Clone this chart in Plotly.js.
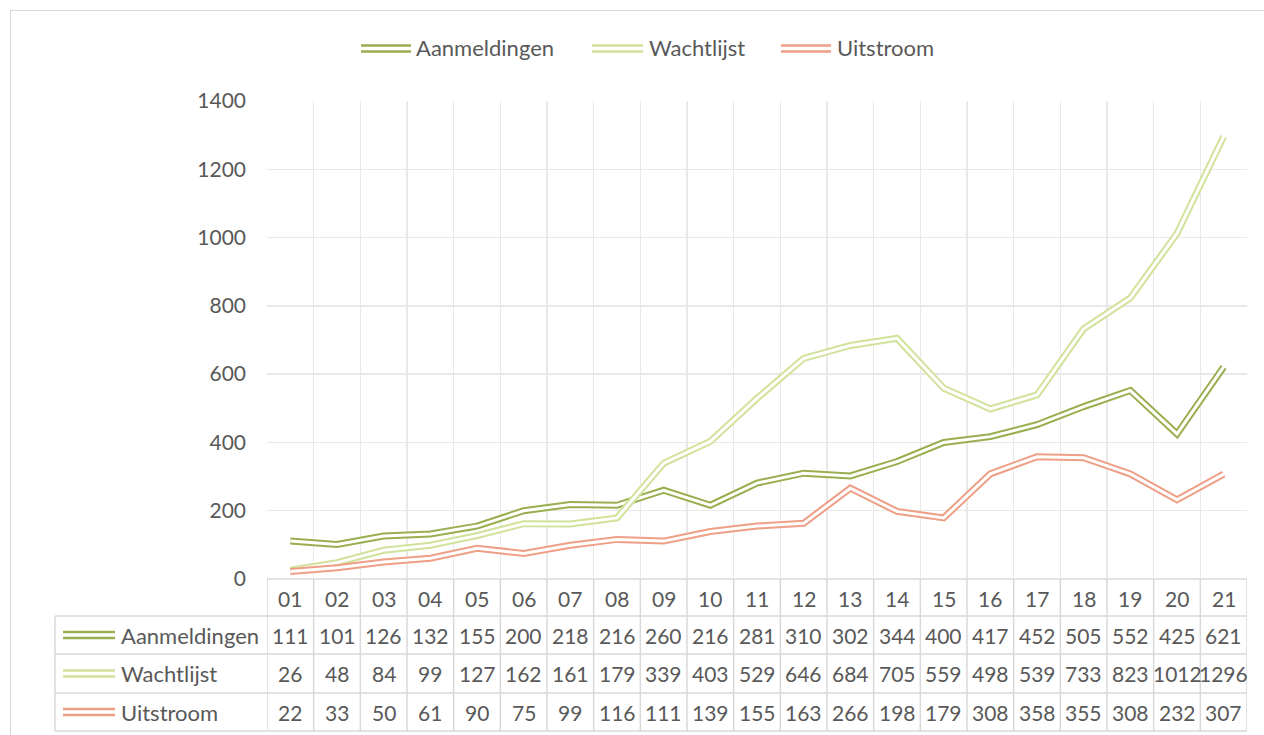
<!DOCTYPE html>
<html><head><meta charset="utf-8">
<script src="https://cdn.plot.ly/plotly-3.0.1.min.js"></script>
<style>html,body{margin:0;padding:0;background:#fff;}#chart{width:1264px;height:735px;}</style>
</head><body><div id="chart"></div>
<script>
const categories = ["01","02","03","04","05","06","07","08","09","10","11","12","13","14","15","16","17","18","19","20","21"];
const seriesNames = ["Aanmeldingen","Wachtlijst","Uitstroom"];
const aanmeldingen = [111,101,126,132,155,200,218,216,260,216,281,310,302,344,400,417,452,505,552,425,621];
const wachtlijst = [26,48,84,99,127,162,161,179,339,403,529,646,684,705,559,498,539,733,823,1012,1296];
const uitstroom = [22,33,50,61,90,75,99,116,111,139,155,163,266,198,179,308,358,355,308,232,307];
const yTicks = [0,200,400,600,800,1000,1200,1400];

const seriesValues = [aanmeldingen, wachtlijst, uitstroom];
const colors = ["#9aae4f","#d2e29b","#ee9f86"];
const W = 1264, H = 735;
const L = 267, R = 1247, T = 101, B = 579;
const px = v => (v - L) / (R - L);
const py = v => (B - v) / (B - T);
const font = "Lato, 'Noto Sans', sans-serif";
const txt = "#595959";
const grid = "#e9e9e9";
const tbl = "#d9d9d9";
const fs = 21;
const fsName = 22;

const xs = categories.map((c, i) => i + 1);
const traces = [];
seriesValues.forEach((vals, s) => {
  traces.push({x: xs, y: vals, type: "scatter", mode: "lines", line: {color: colors[s], width: 7}, hoverinfo: "skip", showlegend: false, cliponaxis: false});
  traces.push({x: xs, y: vals, type: "scatter", mode: "lines", line: {color: "#ffffff", width: 3}, hoverinfo: "skip", showlegend: false, cliponaxis: false});
});

const shapes = [];
const annotations = [];
// outer border
shapes.push({type: "rect", xref: "paper", yref: "paper", x0: px(10.5), x1: px(1300), y0: py(10.5), y1: py(800), line: {color: "#d9d9d9", width: 1}});

// table geometry
const rowLines = [579, 616, 654, 693, 731];
const tblLeft = 55;
const n = categories.length;
shapes.push({type: "line", xref: "paper", yref: "paper", x0: px(L), x1: px(R), y0: py(579), y1: py(579), line: {color: tbl, width: 1.5}});
for (let r = 1; r < rowLines.length; r++) {
  shapes.push({type: "line", xref: "paper", yref: "paper", x0: px(tblLeft), x1: px(R), y0: py(rowLines[r]), y1: py(rowLines[r]), line: {color: tbl, width: 1.5}});
}
for (let i = 0; i <= n; i++) {
  shapes.push({type: "line", xref: "x", yref: "paper", x0: i + 0.5, x1: i + 0.5, y0: py(579), y1: py(731), line: {color: tbl, width: 1.5}});
}
shapes.push({type: "line", xref: "paper", yref: "paper", x0: px(tblLeft), x1: px(tblLeft), y0: py(616), y1: py(731), line: {color: tbl, width: 1.5}});

categories.forEach((c, i) => {
  annotations.push({xref: "x", yref: "paper", x: i + 1, y: py(598), text: c, showarrow: false, font: {family: font, size: fs, color: txt}, xanchor: "center", yanchor: "middle"});
});
const rowCenters = [635, 673.5, 712];
seriesValues.forEach((vals, s) => {
  const yc = rowCenters[s];
  vals.forEach((v, i) => {
    annotations.push({xref: "x", yref: "paper", x: i + 1, y: py(yc), text: String(v), showarrow: false, font: {family: font, size: fs, color: txt}, xanchor: "center", yanchor: "middle"});
  });
  annotations.push({xref: "paper", yref: "paper", x: px(119), y: py(yc), text: seriesNames[s], showarrow: false, font: {family: font, size: fsName, color: txt}, xanchor: "left", yanchor: "middle"});
  [-3, 3].forEach(d => {
    shapes.push({type: "line", xref: "paper", yref: "paper", x0: px(63), x1: px(115), y0: py(yc + d), y1: py(yc + d), line: {color: colors[s], width: 2.5}});
  });
});

const legX = [[361, 411, 414], [592, 643, 647], [781, 831, 835]];
seriesNames.forEach((nm, s) => {
  const [a, b, t] = legX[s];
  [45.5, 51.5].forEach(yy => {
    shapes.push({type: "line", xref: "paper", yref: "paper", x0: px(a), x1: px(b), y0: py(yy), y1: py(yy), line: {color: colors[s], width: 2.5}});
  });
  annotations.push({xref: "paper", yref: "paper", x: px(t), y: py(47.5), text: nm, showarrow: false, font: {family: font, size: fsName, color: txt}, xanchor: "left", yanchor: "middle"});
});

const gridVals = [];
for (let i = 0; i <= n; i++) gridVals.push(i + 0.5);

const layout = {
  width: W, height: H,
  margin: {l: L, r: W - R, t: T, b: H - B, pad: 0},
  paper_bgcolor: "#ffffff", plot_bgcolor: "#ffffff",
  showlegend: false,
  xaxis: {range: [0.5, n + 0.5], tickvals: gridVals, showticklabels: false, ticks: "", showgrid: true, gridcolor: grid, gridwidth: 1.5, zeroline: false, showline: false, fixedrange: true},
  yaxis: {range: [0, 1400], tickvals: yTicks, ticktext: yTicks.map(String), showgrid: true, gridcolor: grid, gridwidth: 1.5, zeroline: false, showline: false, ticks: "", ticklabelstandoff: 20, tickfont: {family: font, size: fs, color: txt}, fixedrange: true},
  shapes: shapes,
  annotations: annotations
};
Plotly.newPlot("chart", traces, layout, {displayModeBar: false, staticPlot: true});
</script></body></html>
